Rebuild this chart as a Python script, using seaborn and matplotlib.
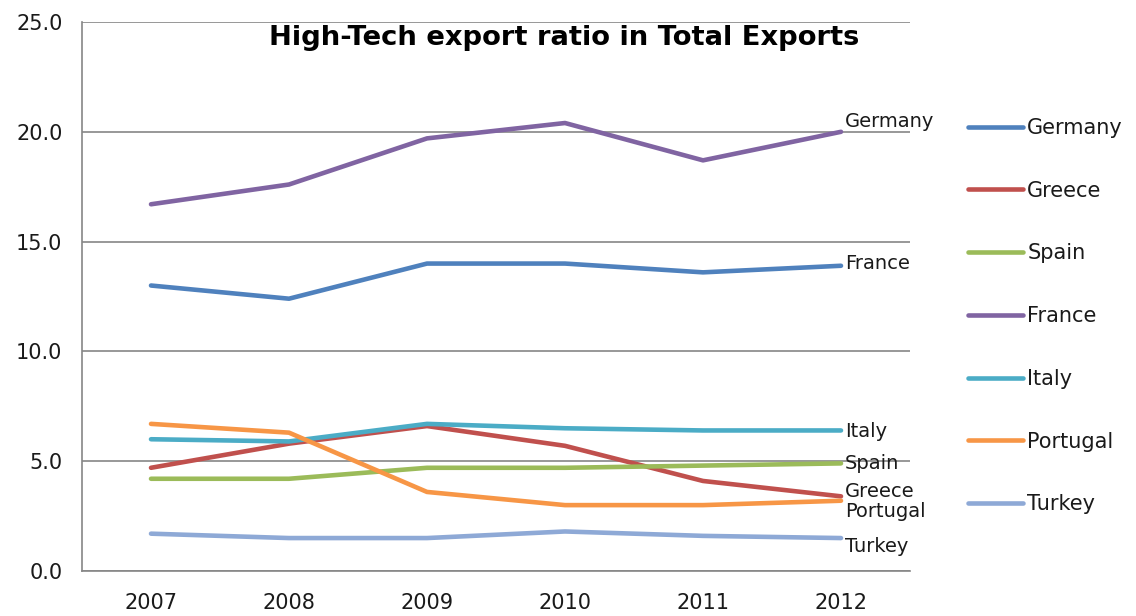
import matplotlib
matplotlib.use("Agg")
import matplotlib.pyplot as plt
import seaborn as sns
import pandas as pd

years = ["2007", "2008", "2009", "2010", "2011", "2012"]
countries = ["Germany", "Greece", "Spain", "France", "Italy", "Portugal", "Turkey"]

germany = [13.0, 12.4, 14.0, 14.0, 13.6, 13.9]
greece = [4.7, 5.8, 6.6, 5.7, 4.1, 3.4]
spain = [4.2, 4.2, 4.7, 4.7, 4.8, 4.9]
france = [16.7, 17.6, 19.7, 20.4, 18.7, 20.0]
italy = [6.0, 5.9, 6.7, 6.5, 6.4, 6.4]
portugal = [6.7, 6.3, 3.6, 3.0, 3.0, 3.2]
turkey = [1.7, 1.5, 1.5, 1.8, 1.6, 1.5]

series = [germany, greece, spain, france, italy, portugal, turkey]

# Labels written at the right end of the lines (as placed on the chart)
end_labels = ["France", "Greece", "Spain", "Germany", "Italy", "Portugal", "Turkey"]
end_label_dy = [0.1, 0.2, 0.0, 0.45, -0.05, -0.5, -0.4]

colors = ["#4F81BD", "#C0504D", "#9BBB59", "#8064A2", "#4BACC6", "#F79646", "#8EA9D6"]

title = "High-Tech export ratio in Total Exports"

rows = []
for name, vals in zip(countries, series):
    for i, v in enumerate(vals):
        rows.append({"idx": i, "year": years[i], "country": name, "value": v})
df = pd.DataFrame(rows)

sns.set_theme(style="white")
plt.rcParams["font.family"] = ["DejaVu Sans"]
text_color = "#1a1a1a"

fig = plt.figure(figsize=(11.36, 6.16), dpi=100)
ax = fig.add_axes([82 / 1136, 1 - 571 / 616, (910 - 82) / 1136, (571 - 22) / 616])

sns.lineplot(data=df, x="idx", y="value", hue="country", hue_order=countries,
             palette=colors, linewidth=3.3, sort=False, ax=ax, legend=True)

ax.set_xlim(-0.5, 5.5)
ax.set_ylim(0, 25)
ax.set_yticks([0, 5, 10, 15, 20, 25])
ax.set_yticklabels([f"{v:.1f}" for v in [0, 5, 10, 15, 20, 25]], fontsize=15, color=text_color)
ax.set_xticks(range(len(years)))
ax.set_xticklabels(years, fontsize=15, color=text_color)
ax.set_xticks([i - 0.5 for i in range(len(years) + 1)], minor=True)
ax.tick_params(axis="x", which="major", length=0, pad=16)
ax.tick_params(axis="x", which="minor", length=6, width=1.2, color="#868686", direction="out")
ax.tick_params(axis="y", which="major", length=6, width=1.2, color="#868686", direction="out", pad=8)
ax.set_xlabel("")
ax.set_ylabel("")

ax.grid(axis="y", color="#868686", linewidth=1.2)
ax.set_axisbelow(True)
for side in ["top", "right"]:
    ax.spines[side].set_visible(False)
for side in ["left", "bottom"]:
    ax.spines[side].set_color("#868686")
    ax.spines[side].set_linewidth(1.2)

for name, vals, dy in zip(end_labels, series, end_label_dy):
    ax.text(5.03, vals[-1] + dy, name, fontsize=14,
            ha="left", va="center", color=text_color)

handles, labels = ax.get_legend_handles_labels()
ax.legend_.remove()
leg = fig.legend(handles, labels, loc="upper left", bbox_to_anchor=(968 / 1136, 1 - 118 / 616),
                 frameon=False, fontsize=15, handlelength=2.65, handletextpad=0.2,
                 labelspacing=2.05, borderpad=0, borderaxespad=0)
for t in leg.get_texts():
    t.set_color(text_color)

fig.text(564 / 1136, 1 - 38 / 616, title, ha="center", va="center",
         fontsize=19.7, fontweight="bold", color="black")

fig.savefig("out.png", dpi=100)
